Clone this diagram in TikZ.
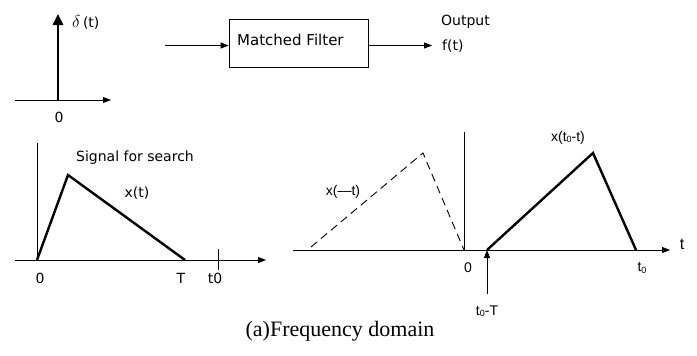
\documentclass[tikz,border=0pt]{standalone}
\usepackage{fontspec}
\setmainfont{DejaVu Sans}
\newfontfamily\capfont{Liberation Serif}
\newfontfamily\arialfont{Liberation Sans}
\usetikzlibrary{arrows.meta}
\newcommand{\tzero}{t\raisebox{-0.15ex}{\fontsize{9}{9}\selectfont 0}}
\tikzset{
  axis/.style={line width=0.8pt, -{Triangle[length=8pt,width=6pt]}},
  thinline/.style={line width=0.8pt},
  sig/.style={line width=2.4pt, line join=miter},
  dsig/.style={line width=0.9pt, dash pattern=on 8pt off 5pt},
  lbl/.style={font=\fontsize{14}{14}\selectfont, inner sep=0pt},
  albl/.style={font=\arialfont\fontsize{14}{14}\selectfont, inner sep=0pt},
}
\begin{document}
\begin{tikzpicture}[x=1pt,y=-1pt]
\useasboundingbox (0,0) rectangle (697,356);

% unit impulse
\coordinate (ha) at (15,100);
\coordinate (hb) at (111,100);
\coordinate (d0) at (58,100);
\coordinate (dt) at (58,14);
\draw[axis] (ha) -- (hb);
\draw[line width=2.6pt, -{Triangle[length=11pt,width=10pt]}] (d0) -- (dt);
\node[lbl, anchor=west] (dl) at (72,22) {\fontsize{16}{16}\selectfont$\delta$\,\fontsize{14}{14}\selectfont(t)};
\node[lbl] (dz) at (59,117) {0};

% matched filter block
\node[draw, thinline, minimum width=139pt, minimum height=48pt, inner sep=0pt] (box) at (298.5,43) {};
\node[lbl, anchor=west, font=\fontsize{15}{15}\selectfont] (mf) at (237,40) {Matched Filter};
\coordinate (in) at (165,45.5);
\coordinate (out) at (432,45.5);
\draw[axis] (in) -- (in -| box.west);
\draw[axis] (out -| box.east) -- (out);
\node[lbl, anchor=west] (outl) at (441,22) {Output};
\node[lbl, anchor=west] (ft) at (442,46) {f(t)};

% signal for search
\coordinate (lo) at (37,260);
\coordinate (ltop) at (37,143);
\coordinate (la) at (15,260);
\coordinate (lb) at (266,260);
\coordinate (lp) at (68,175);
\coordinate (lT) at (185,260);
\coordinate (k1) at (218,249);
\coordinate (k2) at (218,270);
\draw[thinline] (lo) -- (ltop);
\draw[axis] (la) -- (lb);
\draw[thinline] (k1) -- (k2);
\draw[sig] (lo) -- (lp) -- (lT);
\node[lbl] (sfs) at (135,158) {Signal for search};
\node[lbl] (xt) at (137,193) {x(t)};
\node[lbl] (l0) at (40,278.5) {0};
\node[lbl] (lTl) at (181,278.5) {T};
\node[lbl] (lt0) at (215,278.5) {t0};

% reversed and shifted signals
\coordinate (ra) at (293,250);
\coordinate (rb) at (670,250);
\coordinate (ro) at (464,250);
\coordinate (rtop) at (464,132);
\coordinate (n1) at (311,247);
\coordinate (n2) at (423,153);
\coordinate (s1) at (487,250);
\coordinate (s2) at (593,153);
\coordinate (s3) at (636,250);
\coordinate (up) at (487,294);
\draw[axis] (ra) -- (rb);
\draw[thinline] (ro) -- (rtop);
\draw[dsig] (n1) -- (n2) -- (ro);
\draw[sig] (s1) -- (s2) -- (s3);
\draw[axis] (up) -- (s1);
\node[albl, font=\arialfont\fontsize{16}{16}\selectfont] (tl) at (682,244) {t};
\node[albl] (r0) at (468,268) {0};
\node[albl] (rt0) at (642,268) {\tzero};
\node[albl] (xm) at (343,192) {x(—t)};
\node[albl] (xs) at (568,138) {x(\tzero-t)};
\node[albl] (tT) at (487,311) {\tzero-T};

% caption
\node[font=\capfont\fontsize{22}{22}\selectfont, inner sep=0pt] (cap) at (340,331) {(a)Frequency domain};
\end{tikzpicture}
\end{document}
